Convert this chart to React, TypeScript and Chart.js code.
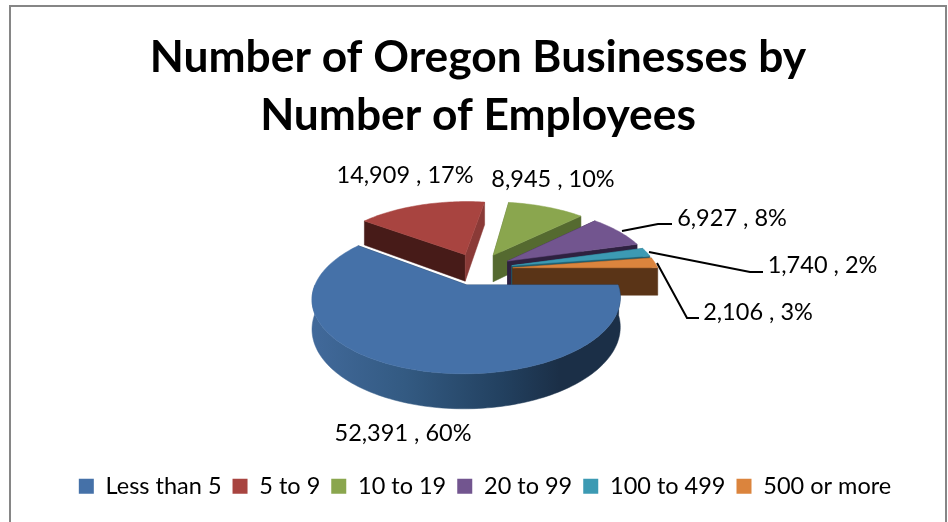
import React, { useEffect, useRef } from "react";
import { Chart, registerables } from "chart.js";

Chart.register(...registerables);

const titleLines = ["Number of Oregon Businesses by", "Number of Employees"];
const categories = ["Less than 5", "5 to 9", "10 to 19", "20 to 99", "100 to 499", "500 or more"];
const businesses = [52391, 14909, 8945, 6927, 1740, 2106];
const valueLabels = ["52,391 , 60%", "14,909 , 17%", "8,945 , 10%", "6,927 , 8%", "1,740 , 2%", "2,106 , 3%"];

const topColors = ["#4571A8", "#A84440", "#8AA64E", "#72558F", "#3C9AB3", "#DB843D"];
const startWallColors = ["#1B2F47", "#471B18", "#556A30", "#2E2140", "#1F5F70", "#5A3417"];
const endWallColors = ["#1B2F47", "#8A3A37", "#556A30", "#2E2140", "#1F5F70", "#5A3417"];
const paintOrder = [1, 2, 3, 4, 5, 0];

// Pseudo-3D view settings
const VIEW = { cx: 478, cy: 269, radius: 145.5, depthScale: 67, perspective: 0.175, wall: 27.5, explode: 0.24 };
const LABEL_FONT = "23.5px Lato";
const labelAnchors = [
  { x: 403, y: 433 }, { x: 405, y: 175 }, { x: 553, y: 179 },
  { x: 732, y: 218 }, { x: 822.5, y: 265 }, { x: 758, y: 312 },
];
const leaderLines: (number[][] | null)[] = [
  null, null, null,
  [[622, 231], [658, 224], [672, 224]],
  [[649, 252], [750, 272], [763, 272]],
  [[657, 263], [687, 318], [699, 318]],
];

function project(X: number, Y: number, z: number) {
  const p = 1 / (1 - VIEW.perspective * Y);
  return { x: VIEW.cx + VIEW.radius * X * p, y: VIEW.cy + (VIEW.depthScale * Y + z * VIEW.wall) * p };
}

function fillPoly(ctx: CanvasRenderingContext2D, pts: { x: number; y: number }[], fill: string | CanvasGradient) {
  ctx.beginPath();
  pts.forEach((q, i) => (i ? ctx.lineTo(q.x, q.y) : ctx.moveTo(q.x, q.y)));
  ctx.closePath();
  ctx.fillStyle = fill;
  ctx.fill();
  ctx.strokeStyle = fill;
  ctx.lineWidth = 0.5;
  ctx.stroke();
}

const pie3d = {
  id: "pie3d",
  afterLayout(chart: any) {
    chart.legend.left += 7;
    chart.legend.right += 7;
  },
  beforeDraw(chart: any) {
    const { ctx, width, height } = chart;
    ctx.save();
    ctx.fillStyle = "#fff";
    ctx.fillRect(0, 0, width, height);
    ctx.strokeStyle = "#868686";
    ctx.lineWidth = 2;
    ctx.strokeRect(10, 6, 936, 530);
    ctx.restore();
  },
  beforeDatasetsDraw(chart: any) {
    const { ctx } = chart;
    const arcs = chart.getDatasetMeta(0).data;
    ctx.save();
    for (const i of paintOrder) {
      const arc = arcs[i];
      const a0 = arc.startAngle;
      const a1 = arc.endAngle;
      const mid = (a0 + a1) / 2;
      const ox = Math.cos(mid) * VIEW.explode;
      const oy = Math.sin(mid) * VIEW.explode;
      const steps = Math.max(4, Math.ceil((a1 - a0) * 40));
      const angles: number[] = [];
      for (let s = 0; s <= steps; s++) angles.push(a0 + ((a1 - a0) * s) / steps);
      const rim = (t: number, z: number) => project(ox + Math.cos(t), oy + Math.sin(t), z);
      const tip = (z: number) => project(ox, oy, z);

      fillPoly(ctx, [tip(0), rim(a0, 0), rim(a0, 1), tip(1)], startWallColors[i]);
      fillPoly(ctx, [tip(0), rim(a1, 0), rim(a1, 1), tip(1)], endWallColors[i]);

      const front = angles.filter((t) => Math.sin(t) > 0);
      if (front.length > 1) {
        const g = ctx.createLinearGradient(313, 0, 621, 0);
        const dark = startWallColors[i];
        if (i === 0) {
          g.addColorStop(0, "#41699A");
          g.addColorStop(0.3, "#335A82");
          g.addColorStop(0.62, "#22405F");
          g.addColorStop(0.8, "#1B2F47");
          g.addColorStop(1, "#1B2F47");
        } else {
          g.addColorStop(0, dark);
          g.addColorStop(1, dark);
        }
        fillPoly(ctx, [...front.map((t) => rim(t, 0)), ...front.slice().reverse().map((t) => rim(t, 1))], g);
      }
      fillPoly(ctx, [tip(0), ...angles.map((t) => rim(t, 0))], arc.options.backgroundColor);
    }

    ctx.strokeStyle = "#000";
    ctx.lineWidth = 2;
    leaderLines.forEach((line) => {
      if (!line) return;
      ctx.beginPath();
      line.forEach(([x, y], j) => (j ? ctx.lineTo(x, y) : ctx.moveTo(x, y)));
      ctx.stroke();
    });
    ctx.fillStyle = "#000";
    ctx.font = LABEL_FONT;
    ctx.textAlign = "center";
    ctx.textBaseline = "middle";
    valueLabels.forEach((t, i) => ctx.fillText(t, labelAnchors[i].x, labelAnchors[i].y));
    ctx.restore();
    return false;
  },
};

export default function App() {
  const ref = useRef<HTMLCanvasElement>(null);
  useEffect(() => {
    const chart = new Chart(ref.current!, {
      type: "pie",
      data: {
        labels: categories,
        datasets: [{ data: businesses, backgroundColor: topColors, borderWidth: 0 }],
      },
      options: {
        animation: false,
        responsive: false,
        devicePixelRatio: 1,
        rotation: 90,
        layout: { padding: { left: 8, bottom: 14, top: 0, right: 0 } },
        plugins: {
          title: {
            display: true,
            text: titleLines,
            color: "#000",
            font: { family: "Lato", weight: "bold", size: 44.3, lineHeight: 1.31 },
            padding: { top: 29, bottom: 10 },
          },
          legend: {
            display: true,
            position: "bottom",
            labels: {
              color: "#000",
              font: { family: "Lato", size: 23.5 },
              boxWidth: 15,
              boxHeight: 15,
              padding: 11,
            },
          },
          tooltip: { enabled: false },
        },
      },
      plugins: [pie3d],
    } as any);
    return () => chart.destroy();
  }, []);
  return (
    <div style={{ position: "fixed", left: 0, top: 0, width: 948, height: 522 }}>
      <canvas ref={ref} width={948} height={522} style={{ display: "block" }} />
    </div>
  );
}
